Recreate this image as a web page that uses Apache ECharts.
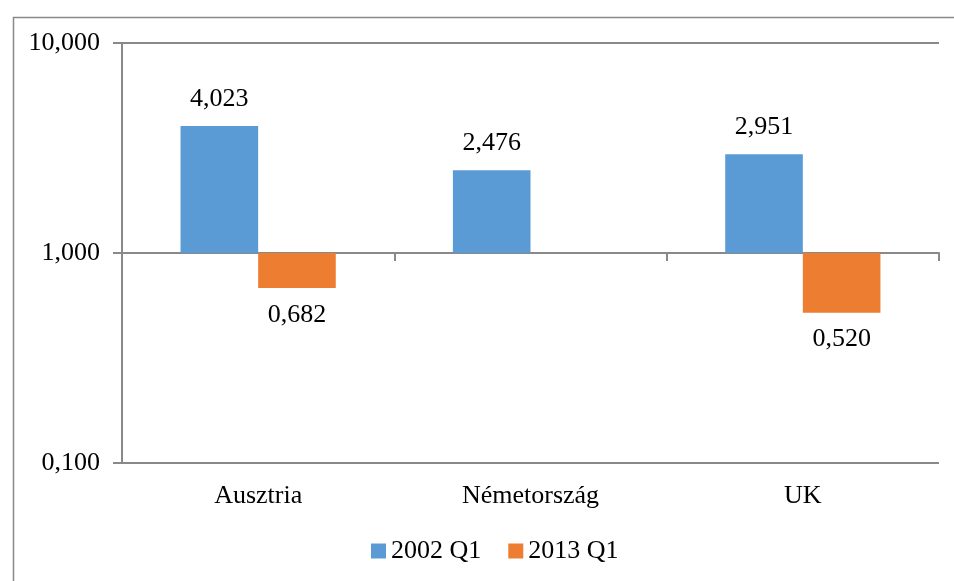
<!DOCTYPE html>
<html><head><meta charset="utf-8">
<script src="https://cdn.jsdelivr.net/npm/echarts@6/dist/echarts.min.js"></script>
<style>html,body{margin:0;padding:0;background:#fff}#c{width:954px;height:581px}</style>
</head><body><div id="c"></div>
<script>
const categories = ['Ausztria', 'Németország', 'UK'];
const series2002 = [4.023, 2.476, 2.951];
const series2013 = [0.682, null, 0.520];
const seriesNames = ['2002 Q1', '2013 Q1'];

const FONT = 'Liberation Serif';
const GRAY = '#898989';
const fmt = v => Number(v).toFixed(3).replace('.', ',');

const chart = echarts.init(document.getElementById('c'), null, {renderer: 'canvas'});
chart.setOption({
  backgroundColor: '#fff',
  animation: false,
  graphic: [{
    type: 'rect', left: 11, top: 15, shape: {width: 1200, height: 1200},
    style: {fill: 'none', stroke: GRAY, lineWidth: 1.5}, silent: true, z: -10
  }],
  grid: {left: 122, right: 15, top: 43, bottom: 118},
  legend: {
    data: seriesNames, top: 533, left: 366,
    itemWidth: 15, itemHeight: 15, itemGap: 27,
    icon: 'rect',
    textStyle: {fontFamily: FONT, fontSize: 26, color: '#000'}
  },
  xAxis: [{
    type: 'category', data: categories, position: 'bottom',
    axisLine: {show: false}, axisTick: {show: false},
    axisLabel: {fontFamily: FONT, fontSize: 26, color: '#000', margin: 20}
  }, {
    type: 'category', data: categories, position: 'bottom', offset: -210,
    axisLine: {show: true, lineStyle: {color: GRAY, width: 2}},
    axisTick: {show: true, length: 8, lineStyle: {color: GRAY, width: 2}},
    axisLabel: {show: false}
  }],
  yAxis: {
    type: 'log', logBase: 10, min: 0.1, max: 10,
    axisLine: {show: true, lineStyle: {color: GRAY, width: 2}},
    axisTick: {show: true, length: 9, lineStyle: {color: GRAY, width: 2}},
    splitLine: {show: true, lineStyle: {color: GRAY, width: 2}},
    axisLabel: {fontFamily: FONT, fontSize: 26, color: '#000', margin: 22, formatter: fmt}
  },
  series: [{
    name: seriesNames[0], type: 'bar', data: series2002,
    barGap: '0%', barCategoryGap: '43%',
    itemStyle: {color: '#5B9BD5'},
    label: {show: true, position: 'outside', distance: 14, fontFamily: FONT, fontSize: 26, color: '#000',
      formatter: p => fmt(p.value)}
  }, {
    name: seriesNames[1], type: 'bar', data: series2013,
    barGap: '0%', barCategoryGap: '43%',
    itemStyle: {color: '#ED7D31'},
    label: {show: true, position: 'outside', distance: 14, fontFamily: FONT, fontSize: 26, color: '#000',
      formatter: p => fmt(p.value)}
  }]
});
</script></body></html>
